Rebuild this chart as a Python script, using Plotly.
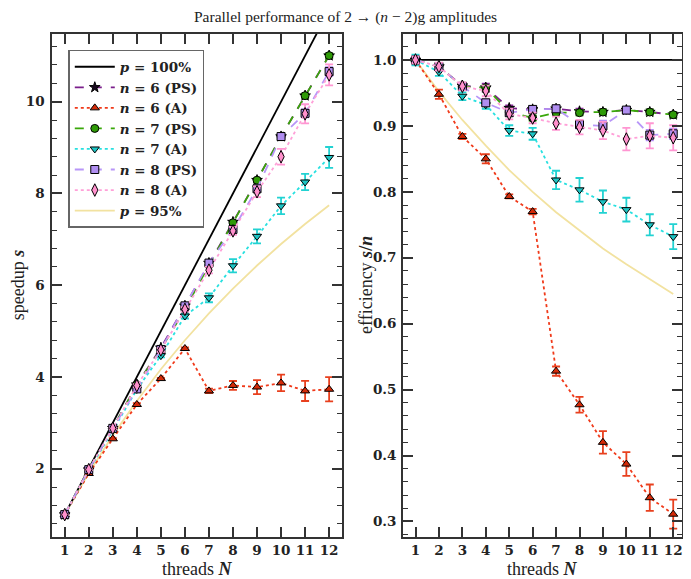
import plotly.graph_objects as go

threads = [1, 2, 3, 4, 5, 6, 7, 8, 9, 10, 11, 12]
x_ticks = [1, 2, 3, 4, 5, 6, 7, 8, 9, 10, 11, 12]

ideal_threads = [1, 13]
ideal_speed = [1, 13]
ideal_eff = [1.0, 1.0]

p95_speed = [1.0, 1.905, 2.727, 3.478, 4.167, 4.800, 5.385, 5.926, 6.429, 6.897, 7.333, 7.742]
p95_eff = [1.0, 0.952, 0.909, 0.870, 0.833, 0.800, 0.769, 0.741, 0.714, 0.690, 0.667, 0.645]

n6ps_speed = [1.0, 1.98, 2.883, 3.832, 4.635, 5.55, 6.482, 7.376, 8.289, 9.24, 10.131, 11.004]
n6ps_speed_err = [0.004, 0.008, 0.012, 0.024, 0.02, 0.024, 0.028, 0.032, 0.036, 0.04, 0.044, 0.048]
n6ps_eff = [1.0, 0.990, 0.961, 0.958, 0.927, 0.925, 0.926, 0.922, 0.921, 0.924, 0.921, 0.917]
n6ps_eff_err = [0.004, 0.004, 0.004, 0.006, 0.004, 0.004, 0.004, 0.004, 0.004, 0.004, 0.004, 0.004]

n6a_speed = [1.0, 1.896, 2.652, 3.40, 3.965, 4.62, 3.696, 3.816, 3.78, 3.87, 3.696, 3.732]
n6a_speed_err = [0.004, 0.014, 0.012, 0.028, 0.015, 0.024, 0.05, 0.096, 0.153, 0.18, 0.22, 0.264]
n6a_eff = [1.0, 0.948, 0.884, 0.850, 0.793, 0.770, 0.528, 0.477, 0.420, 0.387, 0.336, 0.311]
n6a_eff_err = [0.004, 0.007, 0.004, 0.007, 0.003, 0.004, 0.007, 0.012, 0.017, 0.018, 0.020, 0.022]

n7ps_speed = [1.0, 1.98, 2.88, 3.832, 4.605, 5.472, 6.44, 7.36, 8.289, 9.24, 10.131, 11.004]
n7ps_speed_err = [0.004, 0.008, 0.012, 0.016, 0.02, 0.024, 0.028, 0.032, 0.036, 0.04, 0.044, 0.048]
n7ps_eff = [1.0, 0.990, 0.960, 0.958, 0.921, 0.912, 0.920, 0.920, 0.921, 0.924, 0.921, 0.917]
n7ps_eff_err = [0.004, 0.004, 0.004, 0.004, 0.004, 0.004, 0.004, 0.004, 0.004, 0.004, 0.004, 0.004]

n7a_speed = [1.0, 1.964, 2.835, 3.728, 4.465, 5.328, 5.726, 6.424, 7.065, 7.73, 8.25, 8.784]
n7a_speed_err = [0.008, 0.012, 0.018, 0.024, 0.04, 0.054, 0.098, 0.144, 0.153, 0.18, 0.176, 0.228]
n7a_eff = [1.0, 0.982, 0.945, 0.932, 0.893, 0.888, 0.818, 0.803, 0.785, 0.773, 0.750, 0.732]
n7a_eff_err = [0.008, 0.006, 0.006, 0.006, 0.008, 0.009, 0.014, 0.018, 0.017, 0.018, 0.016, 0.019]

n8ps_speed = [1.0, 1.98, 2.88, 3.74, 4.60, 5.55, 6.482, 7.216, 8.10, 9.24, 9.746, 10.656]
n8ps_speed_err = [0.005, 0.01, 0.015, 0.02, 0.025, 0.03, 0.035, 0.048, 0.072, 0.05, 0.088, 0.096]
n8ps_eff = [1.0, 0.990, 0.960, 0.935, 0.920, 0.925, 0.926, 0.902, 0.900, 0.924, 0.886, 0.888]
n8ps_eff_err = [0.005, 0.005, 0.005, 0.005, 0.005, 0.005, 0.005, 0.006, 0.008, 0.005, 0.008, 0.008]

n8a_speed = [1.0, 1.98, 2.88, 3.812, 4.59, 5.472, 6.328, 7.184, 8.037, 8.80, 9.735, 10.584]
n8a_speed_err = [0.005, 0.012, 0.018, 0.032, 0.04, 0.048, 0.07, 0.088, 0.117, 0.17, 0.209, 0.228]
n8a_eff = [1.0, 0.990, 0.960, 0.953, 0.918, 0.912, 0.904, 0.898, 0.893, 0.880, 0.885, 0.882]
n8a_eff_err = [0.005, 0.006, 0.006, 0.008, 0.008, 0.008, 0.010, 0.011, 0.013, 0.017, 0.019, 0.019]

SERIF = "Liberation Serif"
BOLDF = "DejaVu Serif"

series = [
    ("<b><i>n</i> = 6 (PS)</b>", n6ps_speed, n6ps_speed_err, n6ps_eff, n6ps_eff_err,
     "#7b1f8c", "dash", "star", "#1a0a20", "#8a2a9a", 8),
    ("<b><i>n</i> = 6 (A)</b>", n6a_speed, n6a_speed_err, n6a_eff, n6a_eff_err,
     "#f03a1a", "dot", "triangle-up", "#d42a08", "#e8401e", 8),
    ("<b><i>n</i> = 7 (PS)</b>", n7ps_speed, n7ps_speed_err, n7ps_eff, n7ps_eff_err,
     "#3aa80a", "dash", "circle", "#2e9a06", "#3cb814", 8),
    ("<b><i>n</i> = 7 (A)</b>", n7a_speed, n7a_speed_err, n7a_eff, n7a_eff_err,
     "#28e0e0", "dot", "triangle-down", "#1cc4c4", "#22d2d2", 8),
    ("<b><i>n</i> = 8 (PS)</b>", n8ps_speed, n8ps_speed_err, n8ps_eff, n8ps_eff_err,
     "#b896f8", "dash", "square", "#b08ef0", "#b48ef6", 8),
    ("<b><i>n</i> = 8 (A)</b>", n8a_speed, n8a_speed_err, n8a_eff, n8a_eff_err,
     "#ffa0d8", "dot", "diamond-tall", "#ff90cc", "#ff96d2", 9),
]

fig = go.Figure()

fig.add_trace(go.Scatter(x=threads, y=p95_speed, mode="lines", name="<b><i>p</i> = 95%</b>",
                         line=dict(color="#f2e2a0", width=1.8), legendrank=900,
                         xaxis="x", yaxis="y"))
fig.add_trace(go.Scatter(x=threads, y=p95_eff, mode="lines", showlegend=False,
                         line=dict(color="#f2e2a0", width=1.8), xaxis="x2", yaxis="y2"))
fig.add_trace(go.Scatter(x=ideal_threads, y=ideal_speed, mode="lines", name="<b><i>p</i> = 100%</b>",
                         line=dict(color="black", width=1.8), legendrank=100,
                         xaxis="x", yaxis="y"))
fig.add_trace(go.Scatter(x=ideal_threads, y=ideal_eff, mode="lines", showlegend=False,
                         line=dict(color="black", width=1.8), xaxis="x2", yaxis="y2"))

for i, (name, sp, spe, ef, efe, lc, dash, sym, fill, ec, sz) in enumerate(series):
    common = dict(mode="lines+markers",
                  line=dict(color=lc, width=1.8, dash=dash),
                  marker=dict(symbol=sym, size=sz, color=fill,
                              line=dict(color="black", width=1)))
    fig.add_trace(go.Scatter(x=threads, y=sp, name=name, legendrank=200 + i * 10,
                             error_y=dict(type="data", array=spe, color=ec, thickness=1.8, width=4),
                             xaxis="x", yaxis="y", **common))
    fig.add_trace(go.Scatter(x=threads, y=ef, showlegend=False,
                             error_y=dict(type="data", array=efe, color=ec, thickness=1.8, width=4),
                             xaxis="x2", yaxis="y2", **common))

# The page body has an 8px margin: work in screen pixels and shift by OFF.
OFF = 8
W, H = 691 - 2 * OFF, 579 - OFF
SL, SR, ST, SB = 51.7, 682.0, 34.0, 537.3     # plot-area edges on screen
ML, MT = SL - OFF, ST - OFF
MR, MB = W - (SR - OFF), H - (SB - OFF)
PW = W - ML - MR
PH = H - MT - MB

def dom(xl, xr):
    return [(xl - SL) / PW, (xr - SL) / PW]

def xp(sx):
    return (sx - SL) / PW

def yp(sy):
    return (SB - sy) / PH

axis_common = dict(
    showline=True, linecolor="#333333", linewidth=1.5, mirror="allticks",
    ticks="inside", ticklen=10, tickwidth=1.5, tickcolor="#333333",
    showgrid=False, zeroline=False, automargin=False,
    tickfont=dict(family=BOLDF, size=13.5, color="#222222"),
)

TF = dict(family=SERIF, size=18, color="#222222")
annotations = [
    dict(text="threads <b><i>N</i></b>", x=xp(196.7), y=yp(569), xref="paper", yref="paper",
         showarrow=False, xanchor="center", yanchor="middle", font=TF),
    dict(text="threads <b><i>N</i></b>", x=xp(542), y=yp(569), xref="paper", yref="paper",
         showarrow=False, xanchor="center", yanchor="middle", font=TF),
    dict(text="speedup <b><i>s</i></b>", x=xp(18), y=yp(285), xref="paper", yref="paper",
         showarrow=False, xanchor="center", yanchor="middle", textangle=-90, font=TF),
    dict(text="efficiency <b><i>s</i>/<i>n</i></b>", x=xp(366), y=yp(285), xref="paper", yref="paper",
         showarrow=False, xanchor="center", yanchor="middle", textangle=-90, font=TF),
    dict(text="Parallel performance of 2 → (<i>n</i> − 2)g amplitudes", x=xp(345), y=yp(17),
         xref="paper", yref="paper", showarrow=False, xanchor="center", yanchor="middle",
         font=dict(family=SERIF, size=15.5, color="#222222")),
]

fig.update_layout(
    width=W, height=H,
    margin=dict(l=ML, r=MR, t=MT, b=MB, autoexpand=False),
    paper_bgcolor="white", plot_bgcolor="white",
    font=dict(family=SERIF, color="#222222"),
    xaxis=dict(domain=dom(51.7, 341.7), range=[0.47, 12.53], tickmode="array",
               tickvals=x_ticks, ticktext=[f"<b>{t}</b>" for t in x_ticks],
               ticklabelstandoff=0, anchor="y", **axis_common),
    yaxis=dict(domain=[0, 1], range=[0.512, 11.475], tickmode="array",
               tickvals=[2, 4, 6, 8, 10], ticktext=["<b>2</b>", "<b>4</b>", "<b>6</b>", "<b>8</b>", "<b>10</b>"],
               minor=dict(tickmode="linear", tick0=0, dtick=0.4, ticklen=5, tickwidth=1.3,
                          tickcolor="#333333", ticks="inside"),
               ticklabelstandoff=3, anchor="x", **axis_common),
    xaxis2=dict(domain=dom(402.7, 682.0), range=[0.459, 12.375], tickmode="array",
                tickvals=x_ticks, ticktext=[f"<b>{t}</b>" for t in x_ticks],
                ticklabelstandoff=0, anchor="y2", **axis_common),
    yaxis2=dict(domain=[0, 1], range=[0.2764, 1.0394], tickmode="array",
                tickvals=[0.3, 0.4, 0.5, 0.6, 0.7, 0.8, 0.9, 1.0],
                ticktext=[f"<b>{v:.1f}</b>" for v in [0.3, 0.4, 0.5, 0.6, 0.7, 0.8, 0.9, 1.0]],
                minor=dict(tickmode="linear", tick0=0, dtick=0.02, ticklen=5, tickwidth=1.3,
                           tickcolor="#333333", ticks="inside"),
                ticklabelstandoff=2, anchor="x2", **axis_common),
    legend=dict(x=xp(68), y=yp(50), xref="paper", yref="paper", xanchor="left", yanchor="top",
                bgcolor="white", bordercolor="#666666", borderwidth=1.5,
                font=dict(family=BOLDF, size=13.5, color="#222222"),
                tracegroupgap=0, itemwidth=40),
    showlegend=True,
    annotations=annotations,
)

fig.write_html("out.html")
